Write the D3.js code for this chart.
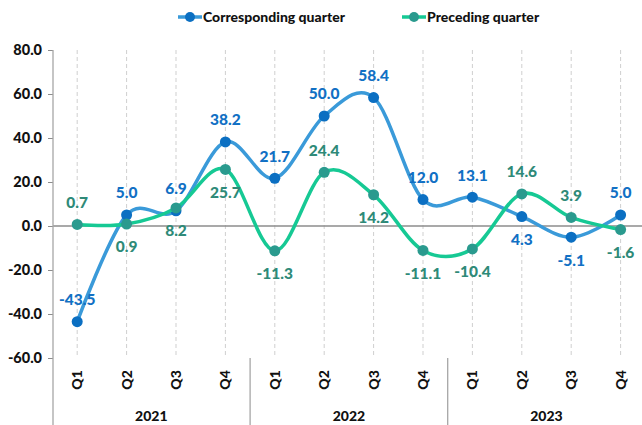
<!DOCTYPE html>
<html>
<head>
<meta charset="utf-8">
<script src="https://cdn.jsdelivr.net/npm/d3@7"></script>
<style>
  body { margin: 0; background: #fff; }
  svg { display: block; font-family: Lato, "Open Sans", sans-serif; font-weight: 900; }
</style>
</head>
<body>
<svg id="chart" width="642" height="425"></svg>
<script>
var quarters = ['Q1', 'Q2', 'Q3', 'Q4', 'Q1', 'Q2', 'Q3', 'Q4', 'Q1', 'Q2', 'Q3', 'Q4'];
var years = ['2021', '2022', '2023'];
var corresponding = [-43.5, 5.0, 6.9, 38.2, 21.7, 50.0, 58.4, 12.0, 13.1, 4.3, -5.1, 5.0];
var preceding = [0.7, 0.9, 8.2, 25.7, -11.3, 24.4, 14.2, -11.1, -10.4, 14.6, 3.9, -1.6];
// where each value label sits: a = above the point, b = below
var corrPlace = ['a', 'a', 'a', 'a', 'a', 'a', 'a', 'a', 'a', 'b', 'b', 'a'];
var precPlace = ['a', 'b', 'b', 'b', 'b', 'a', 'b', 'b', 'b', 'a', 'a', 'b'];
var yTicks = [-60, -40, -20, 0, 20, 40, 60, 80];

var svg = d3.select('#chart');
var fmt = d => d.toFixed(1);   // plain hyphen for negatives, like the original

var x = d3.scaleBand().domain(d3.range(quarters.length)).range([52.5, 645.3]);
var y = d3.scaleLinear().domain([-60, 80]).range([358, 50]);
var cx = i => x(i) + x.bandwidth() / 2;

// vertical dashed grid
svg.append('g')
   .selectAll('line')
   .data(d3.range(quarters.length))
   .enter()
   .append('line')
   .attr('x1', cx).attr('x2', cx)
   .attr('y1', y(80)).attr('y2', y(-60))
   .attr('stroke', '#cfcfcf')
   .attr('stroke-width', 1)
   .attr('stroke-dasharray', '4,3');

// zero line
svg.append('line')
   .attr('x1', 53).attr('x2', 642)
   .attr('y1', y(0)).attr('y2', y(0))
   .attr('stroke', '#8c8c8c')
   .attr('stroke-width', 1.3);

// y axis
var yAxis = svg.append('g')
   .attr('transform', 'translate(53,0)')
   .call(d3.axisLeft(y).tickValues(yTicks).tickSize(5).tickPadding(6).tickFormat(fmt));
yAxis.select('.domain').remove();
yAxis.selectAll('.tick line').attr('stroke', '#8c8c8c');
yAxis.selectAll('.tick text')
     .attr('font-family', 'Lato, sans-serif')
     .attr('font-weight', 900)
     .attr('font-size', 14.5)
     .attr('fill', '#111');
svg.append('line')
   .attr('x1', 53).attr('x2', 53)
   .attr('y1', y(80)).attr('y2', 425)
   .attr('stroke', '#a6a6a6')
   .attr('stroke-width', 1.3);

// year separators
[4, 8].forEach(i => {
  svg.append('line')
     .attr('x1', x(i)).attr('x2', x(i))
     .attr('y1', y(-60)).attr('y2', 425)
     .attr('stroke', '#a6a6a6')
     .attr('stroke-width', 1.3);
});

// quarter labels
svg.append('g')
   .selectAll('text')
   .data(quarters)
   .enter()
   .append('text')
   .attr('transform', (d, i) => 'translate(' + cx(i) + ',380) rotate(-90)')
   .attr('text-anchor', 'middle')
   .attr('dy', '0.35em')
   .attr('font-size', 14)
   .attr('fill', '#111')
   .text(d => d);

// year labels
svg.append('g')
   .selectAll('text')
   .data(years)
   .enter()
   .append('text')
   .attr('x', (d, i) => (x(i * 4) + x(i * 4 + 3) + x.bandwidth()) / 2)
   .attr('y', 416)
   .attr('dy', '0.35em')
   .attr('text-anchor', 'middle')
   .attr('font-size', 14)
   .attr('fill', '#111')
   .text(d => d);

var series = [
  {name: 'Corresponding quarter', values: corresponding, place: corrPlace,
   line: '#3a9ad9', marker: '#0b6fc2', label: '#1170c4', legendX: 178},
  {name: 'Preceding quarter', values: preceding, place: precPlace,
   line: '#16c994', marker: '#2a9a8e', label: '#2e8a78', legendX: 402}
];

var line = d3.line()
             .x((d, i) => cx(i))
             .y(d => y(d))
             .curve(d3.curveCardinal.tension(0));

series.forEach(s => {
  var g = svg.append('g');
  g.append('path')
   .attr('d', line(s.values))
   .attr('fill', 'none')
   .attr('stroke', s.line)
   .attr('stroke-width', 3.5)
   .attr('stroke-linecap', 'round');
  g.selectAll('circle')
   .data(s.values)
   .enter()
   .append('circle')
   .attr('cx', (d, i) => cx(i))
   .attr('cy', d => y(d))
   .attr('r', 5.5)
   .attr('fill', s.marker);
});

series.forEach(s => {
  svg.append('g')
     .selectAll('text')
     .data(s.values)
     .enter()
     .append('text')
     .attr('x', (d, i) => cx(i))
     .attr('y', (d, i) => y(d) + (s.place[i] == 'a' ? -22 : 23))
     .attr('dy', '0.35em')
     .attr('text-anchor', 'middle')
     .attr('font-size', 15.5)
     .attr('fill', s.label)
     .text(d => fmt(d));
});

// legend
series.forEach(s => {
  var lg = svg.append('g').attr('transform', 'translate(' + s.legendX + ',17)');
  lg.append('line')
    .attr('x1', 0).attr('x2', 24)
    .attr('stroke', s.line)
    .attr('stroke-width', 3.5);
  lg.append('circle')
    .attr('cx', 12)
    .attr('r', 5)
    .attr('fill', s.marker);
  lg.append('text')
    .attr('x', 25)
    .attr('dy', '0.35em')
    .attr('font-size', 14)
    .attr('fill', '#111')
    .text(s.name);
});
</script>
</body>
</html>
